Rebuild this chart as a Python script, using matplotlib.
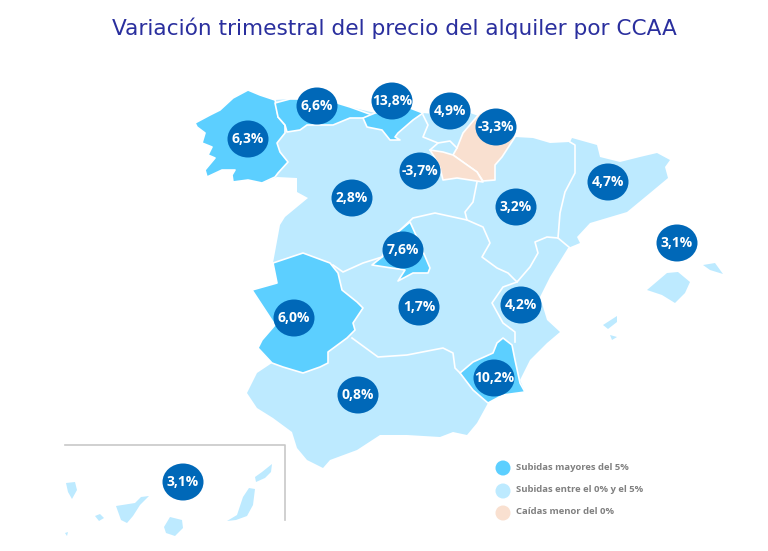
import matplotlib
matplotlib.use('Agg')
import matplotlib.pyplot as plt
from matplotlib.patches import Polygon, Ellipse

# datos por CCAA
ccaa = ['Galicia', 'Asturias', 'Cantabria', 'Pais Vasco', 'Navarra', 'La Rioja', 'Castilla y Leon',
        'Aragon', 'Cataluna', 'Baleares', 'Madrid', 'Valencia', 'Castilla-La Mancha', 'Extremadura',
        'Murcia', 'Andalucia', 'Canarias']
variacion = [6.3, 6.6, 13.8, 4.9, -3.3, -3.7, 2.8, 3.2, 4.7, 3.1, 7.6, 4.2, 1.7, 6.0, 10.2, 0.8, 3.1]
burbuja_x = [248, 317, 392, 450, 496, 420, 352, 516, 608, 677, 403, 521, 419, 294, 494, 358, 183]
burbuja_y = [139, 106, 101, 111, 127, 171, 198, 207, 182, 243, 250, 305, 307, 318, 378, 395, 482]
leyenda = ['Subidas mayores del 5%', 'Subidas entre el 0% y el 5%', 'Caídas menor del 0%']

AZUL = '#5ccfff'
CLARO = '#bdeaff'
NARANJA = '#f9e0d0'
BURBUJA = '#0068b8'

# contornos del mapa, en pixeles de la imagen
peninsula = [(195, 123), (210, 115), (220, 110), (233, 98), (248, 90), (260, 95), (275, 100), (290, 99),
             (307, 99), (337, 103), (350, 107), (375, 113), (397, 110), (410, 108), (423, 113), (445, 115),
             (470, 113), (490, 120), (515, 137), (533, 138), (550, 143), (570, 142), (572, 138), (597, 145),
             (600, 157), (620, 162), (640, 157), (657, 153), (670, 160), (665, 167), (668, 178), (650, 193),
             (627, 212), (590, 223), (577, 237), (580, 243), (568, 248), (550, 277), (540, 297), (547, 320),
             (560, 332), (547, 343), (530, 360), (520, 380), (525, 392), (503, 395), (488, 403), (477, 423),
             (467, 435), (453, 432), (440, 437), (407, 435), (380, 435), (357, 450), (330, 460), (323, 468),
             (307, 460), (297, 448), (292, 432), (273, 418), (257, 408), (247, 393), (257, 373), (272, 363),
             (258, 348), (262, 340), (275, 325), (252, 290), (277, 283), (273, 263), (280, 225), (285, 217),
             (308, 198), (297, 192), (297, 178), (277, 177), (262, 183), (248, 180), (233, 182), (232, 175),
             (235, 170), (222, 170), (207, 177), (205, 170), (215, 158), (208, 155), (212, 147), (202, 143),
             (205, 133), (197, 127)]
regiones = {
    'Galicia': [(195, 123), (210, 115), (220, 110), (233, 98), (248, 90), (260, 95), (275, 100), (277, 107),
                (278, 117), (285, 125), (285, 133), (277, 143), (280, 152), (288, 162), (278, 173), (275, 177),
                (262, 183), (248, 180), (233, 182), (232, 175), (235, 170), (222, 170), (207, 177), (205, 170),
                (215, 158), (208, 155), (212, 147), (202, 143), (205, 133), (197, 127)],
    'Asturias': [(275, 103), (290, 99), (307, 99), (337, 103), (350, 107), (375, 116), (363, 118), (350, 118),
                 (333, 125), (307, 125), (300, 130), (287, 132), (285, 125), (278, 117)],
    'Cantabria': [(363, 118), (375, 113), (397, 110), (410, 108), (423, 113), (413, 120), (398, 133), (395, 137),
                  (400, 140), (390, 140), (382, 130), (367, 127)],
    'Navarra': [(457, 148), (463, 133), (480, 113), (500, 118), (515, 137), (502, 157), (495, 165), (495, 180),
                (483, 181), (477, 172), (453, 155)],
    'La Rioja': [(430, 150), (443, 152), (453, 155), (477, 172), (483, 182), (457, 178), (443, 180), (440, 168),
                 (435, 158)],
    'Madrid': [(410, 222), (415, 233), (430, 268), (428, 273), (413, 273), (398, 281), (405, 270), (372, 265),
               (382, 257), (398, 232)],
    'Extremadura': [(273, 263), (303, 253), (330, 263), (338, 273), (342, 290), (357, 302), (363, 308), (353, 323),
                    (355, 330), (347, 338), (328, 352), (328, 363), (320, 367), (303, 373), (283, 367), (272, 363),
                    (258, 348), (262, 340), (275, 325), (252, 290), (277, 283)],
    'Murcia': [(503, 338), (512, 345), (515, 360), (520, 383), (525, 392), (503, 395), (488, 403), (473, 390),
               (460, 373), (473, 362), (493, 353), (497, 343)],
}
fronteras = [
    [(477, 182), (473, 202), (465, 212), (467, 220), (483, 227), (490, 243), (482, 257), (497, 268), (508, 273),
     (517, 282), (530, 267), (538, 253), (535, 242), (547, 237), (558, 238), (570, 248)],
    [(558, 238), (560, 213), (565, 192), (575, 173), (575, 145), (570, 142)],
    [(467, 220), (435, 213), (413, 218), (398, 232), (382, 257), (363, 263), (343, 272), (333, 265)],
    [(517, 282), (503, 287), (492, 303), (503, 323), (515, 332), (515, 342)],
    [(352, 338), (378, 357), (407, 355), (443, 348), (453, 353), (455, 368), (460, 373)],
    [(423, 115), (428, 125), (423, 137), (438, 143), (430, 150)],
    [(438, 143), (450, 141), (457, 148)],
]
islas = [
    [(647, 290), (667, 273), (678, 272), (690, 282), (685, 293), (675, 303), (662, 295)],
    [(703, 265), (715, 263), (723, 274), (710, 270)],
    [(603, 325), (617, 316), (617, 322), (608, 329)],
    [(610, 335), (617, 337), (612, 340)],
    [(255, 477), (262, 472), (272, 464), (271, 472), (265, 478), (256, 482)],
    [(227, 521), (237, 515), (243, 497), (249, 488), (255, 489), (253, 505), (247, 516), (236, 520)],
    [(164, 527), (170, 517), (182, 520), (183, 528), (175, 536), (166, 533)],
    [(116, 506), (135, 503), (141, 497), (149, 496), (140, 505), (133, 516), (127, 523), (121, 520)],
    [(95, 516), (100, 514), (104, 518), (99, 521)],
    [(66, 483), (75, 482), (77, 490), (72, 499), (68, 492)],
    [(65, 533), (68, 532), (67, 536)],
]


def color_variacion(v):
    if v > 5:
        return AZUL
    if v >= 0:
        return CLARO
    return NARANJA


fig = plt.figure(figsize=(7.68, 5.51), dpi=100)
ax = fig.add_axes([0, 0, 1, 1])
ax.set_xlim(0, 768)
ax.set_ylim(551, 0)
ax.axis('off')

ax.text(394.5, 28, 'Variación trimestral del precio del alquiler por CCAA', color='#2a2f9e',
        fontsize=15.6, family='DejaVu Sans', ha='center', va='center')

ax.add_patch(Polygon(peninsula, closed=True, fc=CLARO, ec='none', zorder=1))
for nombre, puntos in regiones.items():
    v = variacion[ccaa.index(nombre)]
    ax.add_patch(Polygon(puntos, closed=True, fc=color_variacion(v), ec='white', lw=1.2, joinstyle='round', zorder=2))
for linea in fronteras:
    ax.plot([p[0] for p in linea], [p[1] for p in linea], color='white', lw=1.2, zorder=3)
for isla in islas:
    ax.add_patch(Polygon(isla, closed=True, fc=CLARO, ec='none', zorder=1))

# recuadro de Canarias
ax.plot([65, 285, 285], [445, 445, 520], color='#c8c8c8', lw=1.2, zorder=1)

for x, y, v in zip(burbuja_x, burbuja_y, variacion):
    ax.add_patch(Ellipse((x, y), 41, 37, fc=BURBUJA, ec='none', zorder=4))
    ax.text(x, y, '{:.1f}%'.format(v).replace('.', ','), color='white', fontsize=10, fontweight='bold',
            family='Open Sans', ha='center', va='center', zorder=5)

for texto, color, y in zip(leyenda, [AZUL, CLARO, NARANJA], [468, 491, 513]):
    ax.add_patch(Ellipse((503, y), 15, 15, fc=color, ec='none', zorder=2))
    ax.text(516, y - 1, texto, color='#808080', fontsize=6.8, fontweight='bold', family='Open Sans',
            ha='left', va='center')

fig.savefig('out.png', dpi=100)
